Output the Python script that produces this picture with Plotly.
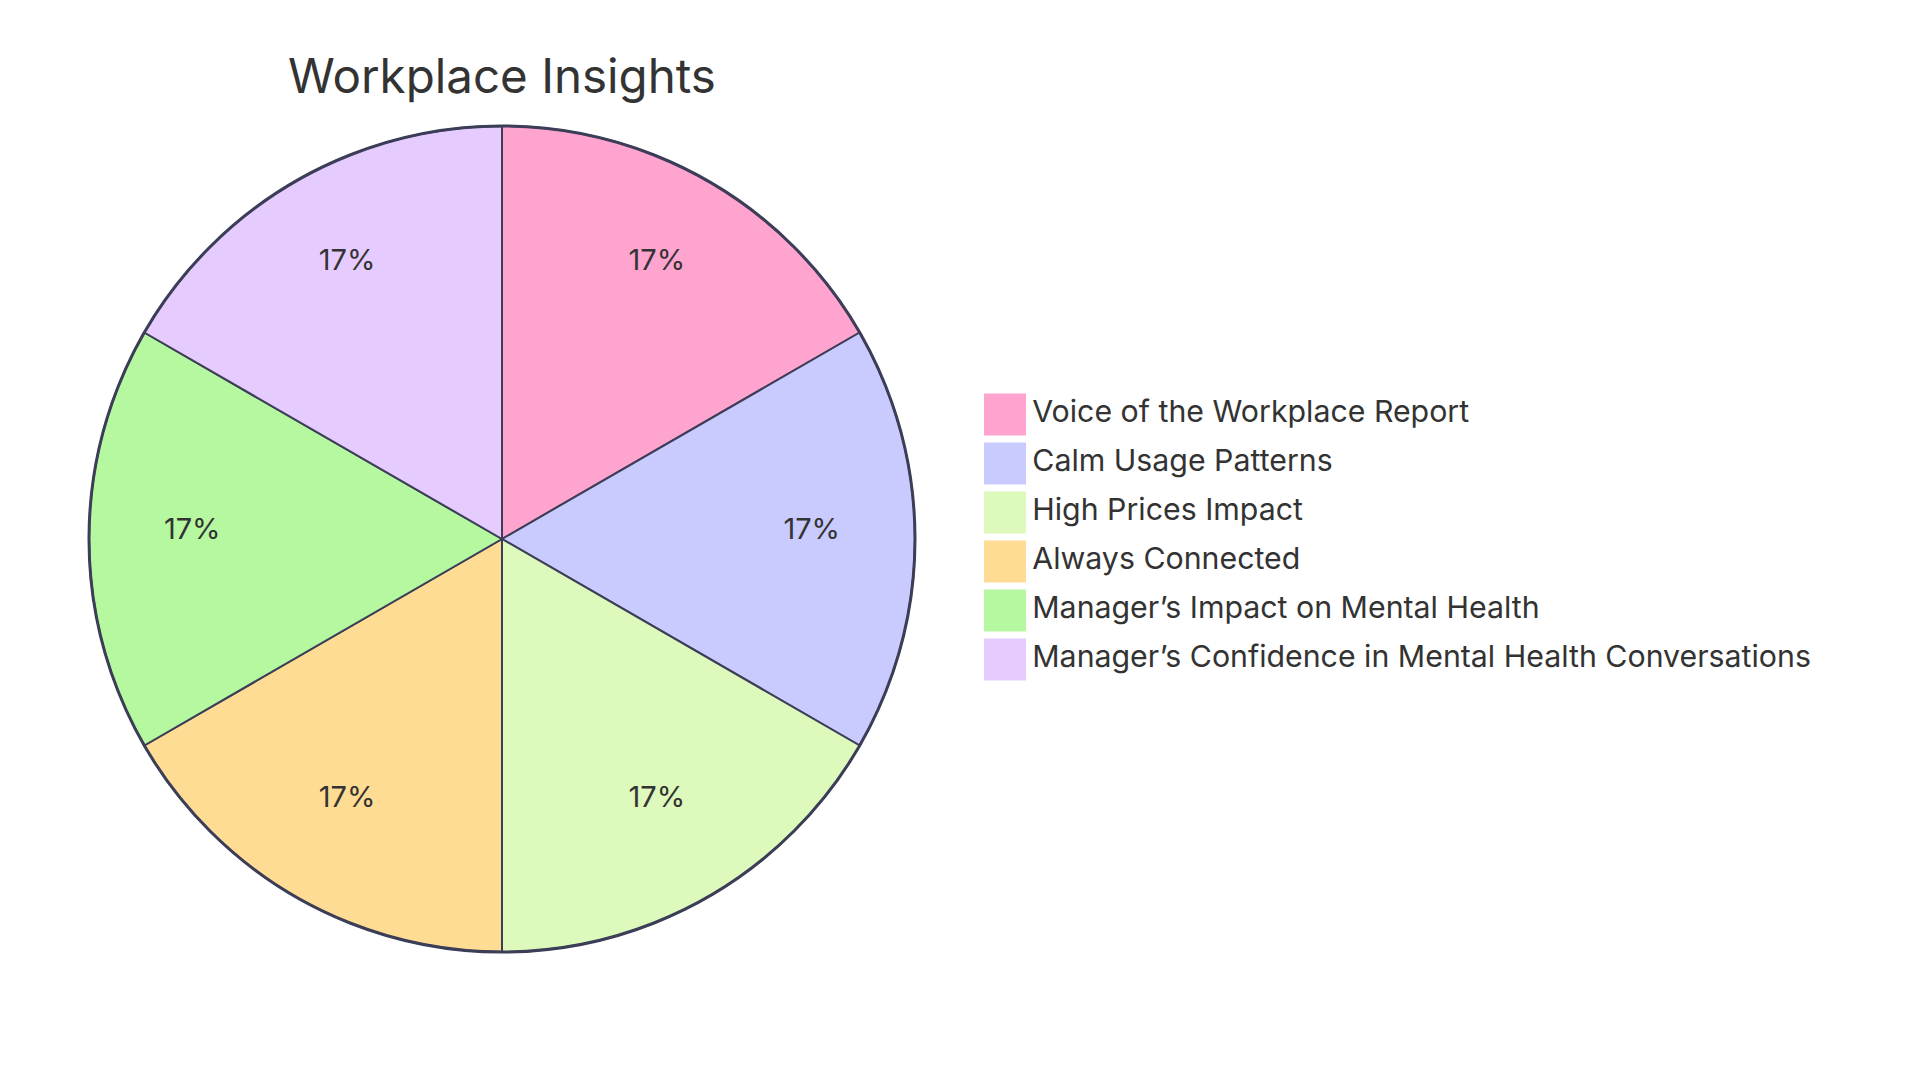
import plotly.graph_objects as go

title = "Workplace Insights"
categories = [
    "Voice of the Workplace Report",
    "Calm Usage Patterns",
    "High Prices Impact",
    "Always Connected",
    "Manager’s Impact on Mental Health",
    "Manager’s Confidence in Mental Health Conversations",
]
values = [1, 1, 1, 1, 1, 1]
colors = ["#FFA3CF", "#C9CBFF", "#DDF9BC", "#FFDC94", "#B5F8A0", "#E6CBFF"]

W, H = 1920, 1080
off = 8  # page body margin
cx, cy, r = 502 - off, 539 - off, 413
font = "Inter, Roboto, sans-serif"
stroke = "#3C3E58"
dom = dict(x=[(cx - r) / W, (cx + r) / W], y=[(H - cy - r) / H, (H - cy + r) / H])
tshift = 11  # lift percentage labels slightly
dom_t = dict(x=dom["x"], y=[(H - cy - r + tshift) / H, (H - cy + r + tshift) / H])

fig = go.Figure()
fig.add_trace(go.Pie(
    labels=categories, values=values, sort=False, direction="clockwise", rotation=0,
    marker=dict(colors=colors, line=dict(color=stroke, width=2)),
    textinfo="none", showlegend=False, hoverinfo="label+percent", domain=dom,
))
# outer circle outline
fig.add_trace(go.Pie(
    labels=["total"], values=[sum(values)], sort=False,
    marker=dict(colors=["rgba(0,0,0,0)"], line=dict(color=stroke, width=3)),
    textinfo="none", showlegend=False, hoverinfo="skip", domain=dom,
))
# transparent ring so percentages sit at ~3/4 radius
fig.add_trace(go.Pie(
    labels=categories, values=values, sort=False, direction="clockwise", rotation=0, hole=0.5,
    marker=dict(colors=["rgba(0,0,0,0)"] * len(categories), line=dict(width=0)),
    texttemplate="%{percent:.0%}", textposition="inside", insidetextorientation="horizontal",
    textfont=dict(family=font, size=29, color="#333333"),
    showlegend=False, hoverinfo="skip", domain=dom_t,
))

# legend drawn as a scatter on hidden axes
lx0, ly0, lstep = 1005 - off, 412.6 - off + 2, 49
fig.add_trace(go.Scatter(
    x=[0] * len(categories), y=list(range(len(categories))),
    mode="markers+text", text=categories, textposition="middle right",
    marker=dict(symbol="square", size=42, color=colors, line=dict(width=0)),
    textfont=dict(family=font, size=30.3, color="#333333"),
    cliponaxis=False, showlegend=False, hoverinfo="skip",
))
fig.update_layout(
    width=W, height=H, margin=dict(l=0, r=0, t=0, b=0),
    paper_bgcolor="white", plot_bgcolor="white",
    title=dict(text=title, x=(502 - off) / W, xanchor="center", y=1 - (76 - off) / H, yanchor="middle",
               font=dict(family=font, size=47.5, color="#333333")),
    xaxis=dict(domain=[lx0 / W, 1], range=[0, W - lx0], visible=False, fixedrange=True),
    yaxis=dict(domain=[0, 1], range=[(H - ly0) / lstep, -ly0 / lstep], visible=False, fixedrange=True),
)
fig.write_html("out.html")
